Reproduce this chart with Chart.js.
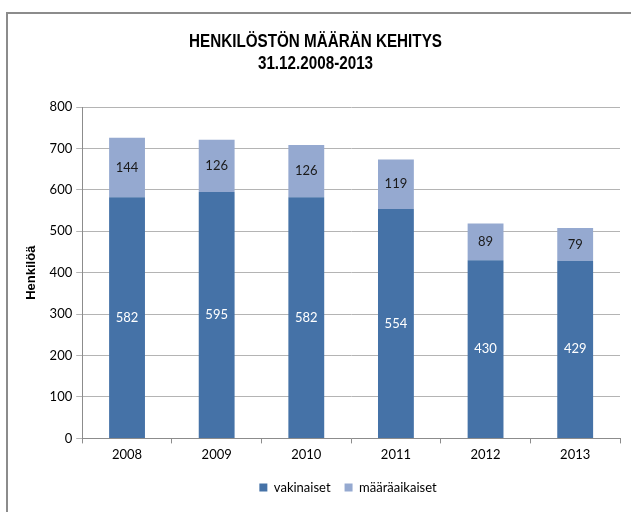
<!DOCTYPE html>
<html>
<head>
<meta charset="utf-8">
<script src="https://cdn.jsdelivr.net/npm/chart.js@4/dist/chart.umd.min.js"></script>
<style>
  body { margin: 0; background: #fff; }
  #wrap { position: relative; width: 631px; height: 512px; overflow: hidden; }
  #frame { position: absolute; left: 6px; top: 12px; width: 700px; height: 600px;
           border-left: 2px solid #8c8c8c; border-top: 2px solid #8c8c8c; }
  canvas { position: absolute; left: 0; top: 0; }
</style>
</head>
<body>
<div id="wrap">
  <div id="frame"></div>
  <canvas id="chart" width="631" height="512"></canvas>
</div>
<script>
const years = ['2008', '2009', '2010', '2011', '2012', '2013'];
const vakinaiset = [582, 595, 582, 554, 430, 429];
const maaraaikaiset = [144, 126, 126, 119, 89, 79];
const yTicks = [0, 100, 200, 300, 400, 500, 600, 700, 800];
const titleLines = ['HENKILÖSTÖN MÄÄRÄN KEHITYS', '31.12.2008-2013'];

const tickFont = { family: 'Lato, "Liberation Sans", sans-serif', size: 13 };

// arvot pylväiden keskelle
const barLabels = {
  id: 'barLabels',
  afterDatasetsDraw(chart) {
    const ctx = chart.ctx;
    ctx.save();
    ctx.font = '13px Lato, "Liberation Sans", sans-serif';
    ctx.textAlign = 'center';
    ctx.textBaseline = 'middle';
    chart.data.datasets.forEach((ds, i) => {
      const meta = chart.getDatasetMeta(i);
      meta.data.forEach((bar, j) => {
        const mid = (bar.y + bar.base) / 2;
        ctx.fillStyle = i === 0 ? '#ffffff' : '#1a1a1a';
        ctx.fillText(ds.data[j], bar.x, mid);
      });
    });
    ctx.restore();
  }
};

// kapeampi otsikko (Arial Narrow -tyyli)
const narrowTitle = {
  id: 'narrowTitle',
  afterDraw(chart) {
    const ctx = chart.ctx;
    ctx.save();
    ctx.font = 'bold 17.5px "Liberation Sans", sans-serif';
    ctx.fillStyle = '#000';
    ctx.textAlign = 'center';
    ctx.textBaseline = 'middle';
    const cx = chart.width / 2;
    ctx.scale(0.87, 1);
    ctx.fillText(titleLines[0], cx / 0.87, 42);
    ctx.fillText(titleLines[1], cx / 0.87, 64);
    ctx.restore();
  }
};

// legenda hieman oikealle kuten alkuperäisessä
const shiftLegend = {
  id: 'shiftLegend',
  afterLayout(chart) {
    chart.legend.left += 28;
    chart.legend.right += 28;
  }
};

new Chart(document.getElementById('chart'), {
  type: 'bar',
  data: {
    labels: years,
    datasets: [
      { label: 'vakinaiset', data: vakinaiset, backgroundColor: '#4572A7',
        categoryPercentage: 1, barPercentage: 0.4 },
      { label: 'määräaikaiset', data: maaraaikaiset, backgroundColor: '#95A9D0',
        categoryPercentage: 1, barPercentage: 0.4 }
    ]
  },
  options: {
    responsive: false,
    animation: false,
    layout: { padding: { left: 20, right: 11, top: 107, bottom: 8 } },
    plugins: {
      title: { display: false },
      legend: {
        position: 'bottom',
        labels: {
          color: '#000',
          font: tickFont,
          boxWidth: 8,
          boxHeight: 8,
          padding: 14
        }
      },
      tooltip: { enabled: false }
    },
    scales: {
      x: {
        stacked: true,
        grid: { offset: true, drawOnChartArea: false, color: '#8c8c8c', tickLength: 5 },
        border: { color: '#8c8c8c' },
        ticks: { color: '#000', font: tickFont, padding: 4 }
      },
      y: {
        stacked: true,
        min: 0,
        max: 800,
        afterBuildTicks(axis) { axis.ticks = yTicks.map(v => ({ value: v })); },
        grid: { color: '#b4b4b4', tickLength: 6 },
        border: { color: '#8c8c8c' },
        ticks: { color: '#000', font: tickFont, padding: 4 },
        title: {
          display: true,
          text: 'Henkilöä',
          color: '#000',
          font: { family: '"Liberation Sans", sans-serif', size: 13, weight: 'bold' },
          padding: { bottom: 6 }
        }
      }
    }
  },
  plugins: [barLabels, narrowTitle, shiftLegend]
});
</script>
</body>
</html>
